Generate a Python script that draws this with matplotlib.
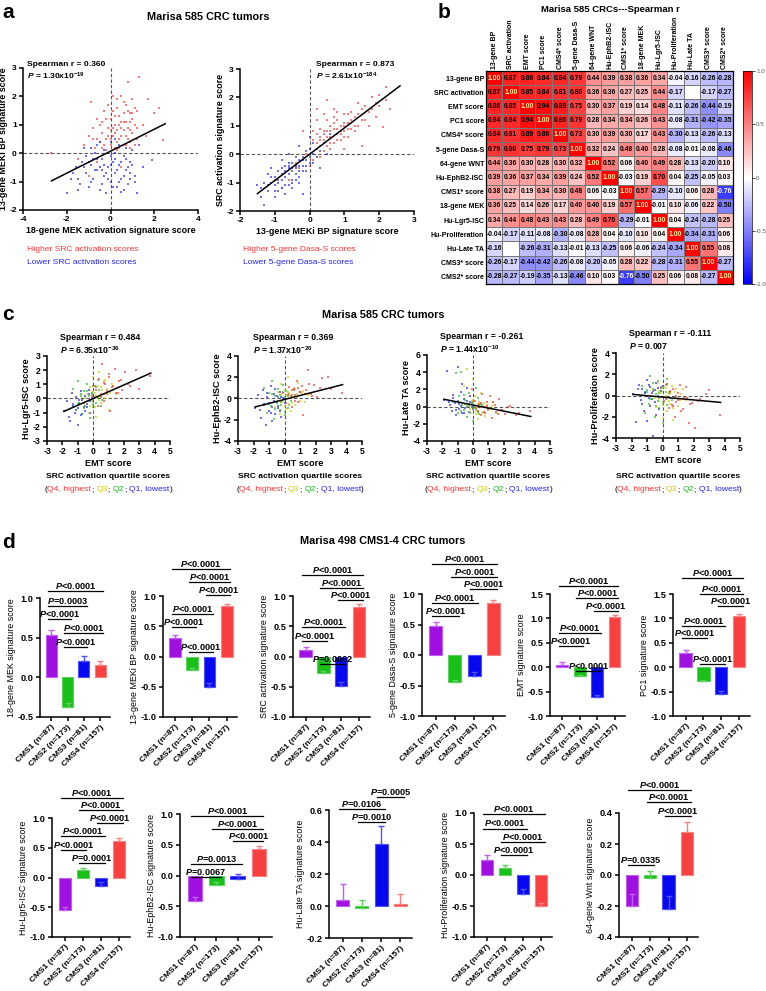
import numpy as np
import matplotlib
matplotlib.use('Agg')
import matplotlib.pyplot as plt
from matplotlib.offsetbox import TextArea, HPacker, AnnotationBbox, DrawingArea

plt.rcParams['font.family'] = ['Liberation Sans', 'DejaVu Sans']
plt.rcParams['font.weight'] = 'bold'
plt.rcParams['axes.labelweight'] = 'bold'
plt.rcParams['mathtext.fontset'] = 'custom'
plt.rcParams['mathtext.rm'] = 'Liberation Sans:bold'
plt.rcParams['mathtext.it'] = 'Liberation Sans:italic:bold'
plt.rcParams['mathtext.bf'] = 'Liberation Sans:bold'
plt.rcParams['axes.unicode_minus'] = False

# ---------------- data ----------------
# panel a, left: 18-gene MEK (x) vs 13-gene MEKi BP (y)
a1_hi_x = [-1.0, -0.8, -0.6, -0.5, -0.4, -0.3, -0.2, -0.1, 0.0, 0.0, 0.1, 0.1, 0.2, 0.2, 0.3, 0.3, 0.4, 0.4,
           0.5, 0.5, 0.6, 0.6, 0.7, 0.7, 0.8, 0.8, 0.9, 0.9, 1.0, 1.0, 1.1, 1.2, 1.2, 1.3, 1.5, 1.7, 2.0, 2.4,
           -0.7, -0.9, -1.2, -0.5, 0.3, -0.2, 1.6, -1.5, -0.6, 0.5, -1.0, 2.2, -2.7,
           -0.3, -0.1, 0.0, 0.2, 0.4, 0.5, 0.6, 0.7, 0.8, 0.9, 1.0, 1.1, 0.3, 0.1, -0.4, -0.6, 0.6, 0.8,
           1.2, 0.9, 0.4, 0.2, -0.2, 0.0, 0.5, 0.7, 1.0, -0.8, -0.4, 0.3, 0.6, 1.1, 0.9, 0.1, -0.1]
a1_hi_y = [0.6, 0.9, 1.2, 0.4, 0.7, 1.5, 0.5, 0.9, 1.2, 0.3, 0.6, 2.0, 1.0, 0.2, 0.8, 1.6, 0.5, 1.3,
           0.9, 2.0, 0.3, 1.1, 0.6, 1.7, 2.5, 0.9, 0.4, 1.4, 0.7, 1.9, 1.0, 0.5, 1.5, 2.7, 1.0, 1.9, 1.4, 0.45,
           0.2, 1.8, 0.3, 1.0, 0.1, 0.1, 0.6, -0.2, -0.3, -0.5, -0.8, 1.6, 0.0,
           0.3, 0.6, 0.8, 1.3, 1.0, 0.6, 1.4, 1.1, 0.5, 0.8, 1.2, 0.3, 0.4, 1.5, 1.1, 0.5, 0.8, 1.5,
           0.9, 1.1, 0.2, 0.7, 1.2, 0.5, 1.1, 0.3, 1.4, 0.5, 0.2, 1.9, 1.8, 1.6, 0.2, 0.9, 1.7]
a1_lo_x = [-2.0, -1.8, -1.6, -1.4, -1.3, -1.1, -1.0, -0.9, -0.8, -0.7, -0.6, -0.5, -0.4, -0.3, -0.2, -0.1,
           0.0, 0.0, 0.1, 0.2, 0.3, 0.3, 0.4, 0.5, 0.6, 0.7, 0.8, 0.9, 1.0, 1.1, 1.2, 1.3, 1.9, -1.2, -0.5,
           0.2, -0.8, 0.6, -1.5, 1.5,
           -1.7, -1.5, -1.2, -1.0, -0.9, -0.7, -0.6, -0.5, -0.4, -0.3, -0.2, -0.1, 0.0, 0.1, 0.2, 0.3, 0.4,
           0.5, 0.6, 0.7, 0.8, 0.9, 1.0, 1.1, -0.9, -0.6, -0.3, 0.0, 0.2, 0.4, 0.7, -1.1, -0.4, 0.5, 0.9]
a1_lo_y = [-1.4, -0.9, -0.5, -1.1, -0.3, -0.7, -1.2, -0.4, -0.9, 0.0, -0.6, -1.3, -0.2, -0.8, -1.4, -0.5,
           -0.1, -1.0, -0.3, -0.7, -1.2, 0.2, -0.4, -0.9, -0.1, -0.6, -1.1, -0.3, 0.1, -0.8, -1.4, 0.3, -0.25,
           0.2, 0.4, 0.5, -0.2, -1.3, -1.3, -0.5,
           -0.7, -0.9, -0.5, -0.3, -1.0, -0.6, -0.2, -0.5, -1.1, -0.4, -0.7, -0.9, -0.4, -1.2, -0.2, -0.6, -1.0,
           -0.3, -0.8, -0.2, -0.5, -0.9, -0.4, -1.0, 0.2, 0.3, 0.1, 0.4, 0.0, 0.3, 0.2, -0.1, -0.6, -1.35, -0.7]
a1_fit = (0.387, 0.07, -2.7, 2.5)  # slope, intercept, x from, x to

# panel a, right: 13-gene MEKi BP (x) vs SRC activation (y)
a2_hi_x = [0.0, 0.1, 0.1, 0.2, 0.2, 0.3, 0.3, 0.4, 0.4, 0.5, 0.5, 0.6, 0.6, 0.7, 0.7, 0.8, 0.8, 0.9, 0.9,
           1.0, 1.0, 1.1, 1.1, 1.2, 1.2, 1.3, 1.4, 1.4, 1.5, 1.5, 1.6, 1.7, 1.8, 1.9, 2.0, 2.1, 2.2, 2.3,
           0.2, 0.4, -0.2, -0.3, -0.6, -0.8, -0.4, -0.1, 0.0, 0.3, 0.5, 1.0, -1.0, 0.7,
           0.3, 0.5, 0.6, 0.8, 0.9, 1.0, 1.1, 1.2, 1.3, 0.4, 0.6, 0.7, 0.8, 1.0, 1.2, 1.4, 1.6, 1.8,
           2.0, 0.2, 0.5, 0.9, 1.1, 1.3, 1.5, 1.7, 0.1, 0.4, 0.6, 0.8, 1.0, 0.3, 0.7, 1.9, 2.2]
a2_hi_y = [0.2, 0.5, -0.2, 0.7, 1.6, 0.3, 0.9, 0.5, 0.1, 0.8, 0.3, 1.0, 0.6, 0.4, 0.9, 1.2, 0.7, 0.5, 1.0,
           1.4, 0.8, 0.6, 1.1, 1.5, 0.9, 1.3, 1.0, 1.8, 1.2, 0.3, 1.7, 1.5, 2.0, 1.3, 1.7, 0.95, 2.35, 1.6,
           1.2, 1.4, 0.8, -0.5, -0.9, -1.2, -0.3, 0.0, -0.4, -0.1, 1.9, 0.2, -0.9, 1.6,
           0.5, 0.6, 0.8, 0.9, 0.7, 1.0, 0.9, 1.1, 1.0, 0.7, 0.4, 1.1, 0.5, 0.6, 1.2, 1.4, 1.2, 1.6,
           2.1, 0.4, 1.2, 0.8, 1.4, 0.8, 1.6, 1.0, 0.8, 0.8, 0.2, 1.5, 1.1, 0.6, 1.3, 1.8, 1.9]
a2_lo_x = [-1.5, -1.4, -1.3, -1.3, -1.2, -1.1, -1.0, -1.0, -0.9, -0.9, -0.8, -0.7, -0.7, -0.6, -0.6, -0.5,
           -0.5, -0.4, -0.4, -0.3, -0.3, -0.2, -0.2, -0.1, -0.1, 0.0, 0.0, 0.1, 0.2, 0.3, 0.4, 0.5, -0.8,
           -0.6, -0.3, -1.1, 0.1, -0.5, -0.2, 0.6,
           -1.2, -1.1, -1.0, -0.9, -0.8, -0.8, -0.7, -0.6, -0.5, -0.5, -0.4, -0.3, -0.3, -0.2, -0.1, 0.0,
           -0.9, -0.7, -0.6, -0.4, -0.2, 0.1, -1.4, -1.0, -0.8, -0.5, -0.3, 0.0, 0.2, -0.6, -0.4, -0.1,
           -1.2, -0.7, 0.3]
a2_lo_y = [-1.1, -1.5, -1.8, -1.0, -1.3, -0.8, -1.1, -1.5, -0.6, -1.3, -0.9, -0.4, -1.1, -0.7, -0.3, -0.9,
           -0.5, -0.1, -0.7, -0.4, -1.0, -0.2, -0.6, 0.1, -0.4, -0.1, 0.6, -0.3, 0.2, -0.5, 0.4, 0.0, -0.2,
           0.0, 0.3, -0.5, 0.4, -1.2, -1.4, 0.7,
           -1.1, -1.0, -0.8, -1.0, -0.7, -1.2, -0.8, -0.5, -0.6, -1.0, -0.4, -0.6, -0.2, -0.4, -0.2, -0.3,
           -0.9, -0.6, -1.1, -0.5, -0.1, 0.0, -1.2, -1.3, -0.5, -0.3, -0.8, 0.2, -0.1, -0.4, -0.9, -0.6,
           -0.7, -1.4, 0.1]
a2_fit = (0.926, 0.0, -1.5, 2.6)

# panel b: Spearman r matrix
hm_labels = ['13-gene BP', 'SRC activation', 'EMT score', 'PC1 score', 'CMS4* score', '5-gene Dasa-S',
             '64-gene WNT', 'Hu-EphB2-ISC', 'CMS1* score', '18-gene MEK', 'Hu-Lgr5-ISC',
             'Hu-Proliferation', 'Hu-Late TA', 'CMS3* score', 'CMS2* score']
nan = np.nan
hm_r = np.array([
    [1.00, 0.87, 0.86, 0.84, 0.84, 0.79, 0.44, 0.39, 0.38, 0.36, 0.34, -0.04, -0.16, -0.26, -0.28],
    [0.87, 1.00, 0.85, 0.84, 0.81, 0.80, 0.36, 0.36, 0.27, 0.25, 0.44, -0.17, nan, -0.17, -0.27],
    [0.86, 0.85, 1.00, 0.94, 0.89, 0.75, 0.30, 0.37, 0.19, 0.14, 0.48, -0.11, -0.26, -0.44, -0.19],
    [0.84, 0.84, 0.94, 1.00, 0.86, 0.79, 0.28, 0.34, 0.34, 0.26, 0.43, -0.08, -0.31, -0.42, -0.35],
    [0.84, 0.81, 0.89, 0.86, 1.00, 0.73, 0.30, 0.39, 0.30, 0.17, 0.43, -0.30, -0.13, -0.26, -0.13],
    [0.79, 0.80, 0.75, 0.79, 0.73, 1.00, 0.32, 0.24, 0.48, 0.40, 0.28, -0.08, -0.01, -0.08, -0.46],
    [0.44, 0.36, 0.30, 0.28, 0.30, 0.32, 1.00, 0.52, 0.06, 0.40, 0.49, 0.28, -0.13, -0.20, 0.10],
    [0.39, 0.36, 0.37, 0.34, 0.39, 0.24, 0.52, 1.00, -0.03, 0.19, 0.70, 0.04, -0.25, -0.05, 0.03],
    [0.38, 0.27, 0.19, 0.34, 0.30, 0.48, 0.06, -0.03, 1.00, 0.57, -0.29, -0.10, 0.06, 0.28, -0.76],
    [0.36, 0.25, 0.14, 0.26, 0.17, 0.40, 0.40, 0.19, 0.57, 1.00, -0.01, 0.10, -0.06, 0.22, -0.50],
    [0.34, 0.44, 0.48, 0.43, 0.43, 0.28, 0.49, 0.70, -0.29, -0.01, 1.00, 0.04, -0.24, -0.28, 0.25],
    [-0.04, -0.17, -0.11, -0.08, -0.30, -0.08, 0.28, 0.04, -0.10, 0.10, 0.04, 1.00, -0.34, -0.31, 0.06],
    [-0.16, nan, -0.26, -0.31, -0.13, -0.01, -0.13, -0.25, 0.06, -0.06, -0.24, -0.34, 1.00, 0.55, 0.08],
    [-0.26, -0.17, -0.44, -0.42, -0.26, -0.08, -0.20, -0.05, 0.28, 0.22, -0.28, -0.31, 0.55, 1.00, -0.27],
    [-0.28, -0.27, -0.19, -0.35, -0.13, -0.46, 0.10, 0.03, -0.76, -0.50, 0.25, 0.06, 0.08, -0.27, 1.00],
])

# panel c: EMT score per SRC activation quartile (same samples in all 4 plots)
emt_q4 = [-0.1, 0.1, 0.3, 0.4, 0.5, 0.6, 0.7, 0.8, 0.9, 1.0, 1.1, 1.2, 1.4, 1.5, 1.7, 1.9, 2.1, 2.4, 3.0, 3.7,
          0.2, 0.5, 0.7, 0.9, 1.0, 1.3, 1.6, 1.8, 2.3, 2.8]
emt_q3 = [-0.6, -0.4, -0.3, -0.2, -0.1, 0.0, 0.1, 0.1, 0.2, 0.3, 0.3, 0.4, 0.5, 0.6, 0.7, 0.8, 0.9, 1.0, 1.2, 1.5,
          -0.5, -0.2, 0.0, 0.2, 0.4, 0.5, 0.7, 0.8, 1.1, 1.3]
emt_q2 = [-1.3, -1.1, -1.0, -0.9, -0.8, -0.7, -0.6, -0.5, -0.4, -0.3, -0.3, -0.2, -0.1, 0.0, 0.0, 0.1, 0.2, 0.3, 0.4, 0.6,
          -1.0, -0.8, -0.6, -0.4, -0.2, -0.1, 0.0, 0.2, 0.3, 0.5]
emt_q1 = [-1.9, -1.7, -1.5, -1.4, -1.3, -1.2, -1.1, -1.0, -1.0, -0.9, -0.8, -0.8, -0.7, -0.6, -0.5, -0.5, -0.4, -0.3, -0.2, -0.1,
          -1.6, -1.3, -1.1, -0.9, -0.7, -0.6, -0.4, -0.3, -0.2, 0.0]

lgr5_q4 = [0.2, 0.9, -0.5, 1.4, 0.3, 2.4, -0.2, 1.0, 0.5, 1.7, -0.9, 0.8, 2.1, 0.4, 1.2, 0.6, 1.9, 0.9, 0.7, 1.6,
           0.6, 0.1, 1.1, 0.3, 1.5, 0.9, 0.4, 1.3, 1.0, 2.0]
lgr5_q3 = [-0.4, 0.3, -1.0, 0.8, -0.2, 1.5, -0.6, 0.4, -1.3, 0.9, 0.1, 1.9, -0.3, 0.6, 1.2, 0.0, 0.7, -0.8, 1.0, 0.3,
           0.0, -0.5, 0.5, 0.2, -0.1, 0.8, 0.3, 1.3, 0.4, 0.6]
lgr5_q2 = [0.7, -0.8, 1.2, -0.3, 0.3, -1.1, 0.5, -0.5, 1.0, -0.2, 0.2, -1.4, 0.4, -0.6, 0.9, 0.1, -0.3, 1.3, 0.6, -0.1,
           -0.4, 0.2, -0.7, 0.5, -0.1, 0.3, -0.4, 0.8, 0.0, -0.5]
lgr5_q1 = [-0.9, -0.2, -1.6, 0.4, -0.5, -1.0, 0.1, -0.7, -1.9, -0.3, 0.5, -1.2, -0.1, -0.6, 0.2, -0.9, -0.4, 0.6, -0.2, 0.0,
           -1.3, -0.4, -0.8, -0.1, -1.1, -0.3, -0.6, 0.3, -1.0, -0.2]

ephb2_q4 = [0.5, -0.4, 1.1, 0.2, -0.8, 0.9, 0.3, 1.6, -0.3, 0.6, 1.2, -1.6, 0.8, 2.7, 0.4, 1.3, 0.1, 1.9, 0.9, 0.5,
            0.3, 0.8, -0.2, 1.0, 0.6, 0.4, 1.4, 0.2, 1.0, 2.0]
ephb2_q3 = [-0.8, 0.6, -1.5, 1.4, -0.3, 0.8, -1.0, 0.3, 2.0, -0.5, 0.5, -1.2, 0.2, 1.0, -0.6, 0.4, 1.5, -0.2, 0.7, 0.3,
            -0.2, 0.3, -0.7, 0.6, 0.0, -0.4, 0.9, 0.1, 0.5, -0.3]
ephb2_q2 = [1.0, -1.4, 0.5, -0.7, 1.6, -1.9, 0.2, -0.4, 0.9, -1.1, 0.3, -0.6, 1.3, -1.6, 0.1, 0.7, -0.9, 0.4, -0.2, 0.8,
            -0.5, 0.4, -1.0, 0.1, -0.3, 0.6, -1.3, 0.2, -0.6, 0.3]
ephb2_q1 = [-0.9, 0.3, -1.8, 0.8, -0.6, -2.5, 0.1, -1.2, -0.4, 1.2, -0.8, -2.1, 0.4, -1.5, 0.2, -0.3, -0.9, 0.6, -1.7, 0.0,
            -1.1, -0.5, 0.5, -1.4, -0.2, 0.9, -0.7, -1.2, 0.1, -0.4]

lateta_q4 = [2.0, 0.6, -0.5, 0.3, -1.0, 1.5, 0.0, -0.8, 0.5, -0.3, 1.2, -1.3, 0.2, -0.6, 0.9, -0.4, -0.9, 0.1, -0.7, -0.5,
             -0.2, 0.4, -0.6, 0.1, -0.3, 0.5, -0.9, -0.4, -0.1, -1.0]
lateta_q3 = [2.4, 4.4, 0.1, -0.6, 0.6, 3.2, -0.2, 1.2, -0.9, 0.3, -1.4, 0.5, 0.0, -0.7, 0.4, -1.1, 0.2, -0.4, 0.1, -0.8,
             0.3, -0.3, 0.8, -0.5, 0.2, 1.6, -0.6, 0.0, -0.2, 0.5]
lateta_q2 = [0.5, 3.9, -0.8, 1.2, 4.0, 0.2, -0.4, 0.8, -1.2, 0.3, 1.6, -0.6, 0.4, -1.7, 0.7, 0.0, -0.3, 1.0, -0.9, 0.2,
             0.6, -0.5, 1.4, 0.1, -0.8, 0.4, -0.2, 2.2, -0.6, 0.3]
lateta_q1 = [0.8, 4.1, 0.2, -0.5, 1.3, 0.4, -1.0, 4.6, 0.6, -0.3, 1.7, 0.1, -0.7, 0.9, -0.2, 0.3, 2.2, -0.6, 0.5, 0.0,
             0.5, 1.0, -0.4, 0.3, 2.6, -0.8, 0.7, 0.1, 1.2, -0.3]

prolif_q4 = [0.7, -0.5, 1.1, -1.2, 0.3, -0.9, 0.6, -2.0, 0.0, -0.4, 1.0, -1.5, -0.2, 0.8, -2.6, -0.7, -3.1, -0.3, 0.5, -1.8,
             -0.3, 0.4, -1.0, -0.6, 0.2, -1.3, -0.2, -0.8, -0.5, 0.1]
prolif_q3 = [0.5, -1.1, 1.2, -0.3, 0.2, -2.1, 0.8, -0.6, 0.0, 1.1, -1.5, 0.3, -0.8, 0.9, -2.3, -0.2, 0.6, -1.0, 0.1, -0.4,
             -0.2, 0.4, -0.9, 0.7, -0.5, 0.1, -1.2, 0.3, -0.4, 0.6]
prolif_q2 = [0.9, -1.6, 0.3, -0.8, 1.8, -0.3, 0.6, -2.0, 0.1, -0.5, 1.4, -1.2, 0.4, -2.6, 0.7, -0.1, 1.0, -0.9, 0.2, -0.4,
             0.5, -0.3, 1.2, -1.0, 0.2, 0.8, -0.6, 0.3, 1.6, -0.2]
prolif_q1 = [0.1, -2.5, 1.0, -0.4, 0.6, -1.5, 0.3, -2.4, 1.5, -0.2, 0.8, -1.0, 0.2, -3.8, 0.5, -0.6, 1.2, 0.0, -1.3, 0.4,
             0.6, -0.8, 0.2, 1.0, -0.3, 0.4, -1.8, 0.7, -0.1, 0.9]

c_fits = [(0.478, 0.0), (0.372, -0.09), (-0.354, 0.18), (-0.133, -0.15)]
c_fit_range = (-1.9, 3.75)

# panel d: CMS group means / SEM
cms_labels = ['CMS1 (n=87)', 'CMS2 (n=173)', 'CMS3 (n=81)', 'CMS4 (n=157)']
mek18_mean = [0.53, -0.37, 0.21, 0.15];   mek18_sem = [0.065, 0.045, 0.06, 0.05]
bp13_mean = [0.30, -0.23, -0.50, 0.83];   bp13_sem = [0.055, 0.035, 0.06, 0.04]
src_mean = [0.10, -0.28, -0.48, 0.82];    src_sem = [0.06, 0.035, 0.065, 0.04]
dasa_mean = [0.47, -0.45, -0.35, 0.85];   dasa_sem = [0.07, 0.04, 0.07, 0.05]
emt_mean = [0.05, -0.18, -0.62, 1.02];    emt_sem = [0.06, 0.03, 0.06, 0.05]
pc1_mean = [0.29, -0.29, -0.55, 1.05];    pc1_sem = [0.06, 0.03, 0.055, 0.05]
lgr5_mean = [-0.55, 0.12, -0.15, 0.61];   lgr5_sem = [0.05, 0.04, 0.07, 0.05]
ephb2_mean = [-0.42, -0.16, -0.06, 0.43]; ephb2_sem = [0.07, 0.05, 0.08, 0.05]
lateta_mean = [0.04, -0.01, 0.39, 0.01];  lateta_sem = [0.095, 0.05, 0.11, 0.065]
prolif_mean = [0.25, 0.12, -0.31, -0.50]; prolif_sem = [0.07, 0.045, 0.09, 0.055]
wnt_mean = [-0.20, -0.02, -0.22, 0.28];   wnt_sem = [0.08, 0.045, 0.085, 0.06]

# comparisons: (group i, group j, bracket height, p text)
mek18_p = [(0, 3, 1.09, '<0.0001'), (0, 2, 0.90, '=0.0003'), (0, 1, 0.74, '<0.0001'),
           (1, 3, 0.555, '<0.0001'), (1, 2, 0.386, '<0.0001')]
bp13_p = [(0, 3, 1.45, '<0.0001'), (1, 3, 1.23, '<0.0001'), (2, 3, 1.02, '<0.0001'),
          (0, 2, 0.70, '<0.0001'), (0, 1, 0.49, '<0.0001'), (1, 2, 0.08, '<0.0001')]
src_p = [(0, 3, 1.35, '<0.0001'), (1, 3, 1.14, '<0.0001'), (2, 3, 0.93, '<0.0001'),
         (0, 2, 0.49, '<0.0001'), (0, 1, 0.26, '<0.0001'), (1, 2, -0.13, '=0.0062')]
dasa_p = [(0, 3, 1.49, '<0.0001'), (1, 3, 1.28, '<0.0001'), (2, 3, 1.09, '<0.0001'),
          (0, 2, 0.85, '<0.0001'), (0, 1, 0.64, '<0.0001')]
emt_p = [(0, 3, 1.67, '<0.0001'), (1, 3, 1.41, '<0.0001'), (2, 3, 1.16, '<0.0001'),
         (0, 2, 0.71, '<0.0001'), (0, 1, 0.43, '<0.0001'), (1, 2, -0.08, '<0.0001')]
pc1_p = [(0, 3, 1.82, '<0.0001'), (1, 3, 1.51, '<0.0001'), (2, 3, 1.25, '<0.0001'),
         (0, 2, 0.85, '<0.0001'), (0, 1, 0.59, '<0.0001'), (1, 2, 0.06, '<0.0001')]
lgr5_p = [(0, 3, 1.34, '<0.0001'), (1, 3, 1.13, '<0.0001'), (2, 3, 0.92, '<0.0001'),
          (0, 2, 0.69, '<0.0001'), (0, 1, 0.46, '<0.0001'), (1, 2, 0.24, '=0.0001')]
ephb2_p = [(0, 3, 0.97, '<0.0001'), (1, 3, 0.76, '<0.0001'), (2, 3, 0.56, '<0.0001'),
           (0, 2, 0.19, '=0.0013'), (0, 1, -0.02, '=0.0067')]
lateta_p = [(2, 3, 0.68, '=0.0005'), (0, 2, 0.606, '=0.0106'), (1, 2, 0.523, '=0.0010')]
prolif_p = [(0, 3, 0.98, '<0.0001'), (0, 2, 0.75, '<0.0001'), (1, 3, 0.53, '<0.0001'), (1, 2, 0.32, '<0.0001')]
wnt_p = [(0, 3, 0.55, '<0.0001'), (1, 3, 0.47, '<0.0001'), (2, 3, 0.38, '<0.0001'), (0, 1, 0.064, '=0.0335')]

# ---------------- figure helpers ----------------
W, H = 766, 991
fig = plt.figure(figsize=(W / 100, H / 100), dpi=100)

RED, YEL, GRN, BLU = '#ff3333', '#cccc00', '#22bb22', '#2222ff'
bar_face = ['#a010e0', '#18c018', '#0808f0', '#f84040']
bar_edge = ['#c060f0', '#60d060', '#5050f8', '#f88080']


def px_ax(l, t, r, b):
    return fig.add_axes([l / W, 1 - b / H, (r - l) / W, (b - t) / H])


def ftext(x, y, s, **kw):
    return fig.text(x / W, 1 - y / H, s, **kw)


def prism(ax, fs):
    ax.spines['top'].set_visible(False)
    ax.spines['right'].set_visible(False)
    ax.spines['left'].set_linewidth(1.1)
    ax.spines['bottom'].set_linewidth(1.1)
    ax.tick_params(width=1.1, length=3, labelsize=fs, pad=1.5)


def color_line(xc, y, parts, size):
    kids = []
    for txt, col in parts:
        if txt == ' ':
            kids.append(DrawingArea(2.0, 1))
        else:
            kids.append(TextArea(txt, textprops=dict(color=col, fontsize=size, fontweight='normal')))
    pack = HPacker(children=kids, align='baseline', pad=0, sep=0)
    ab = AnnotationBbox(pack, (xc / W, 1 - y / H), xycoords='figure fraction', frameon=False,
                        box_alignment=(0.5, 0.5), pad=0)
    fig.add_artist(ab)


def scatter_panel(box, groups, fit, xr, xlim, ylim, xticks, yticks, xlabel, ylabel, fs, ms):
    ax = px_ax(*box)
    for x, y, c in groups:
        ax.scatter(x, y, s=ms, c=c, marker='s', linewidths=0, alpha=0.65, zorder=2)
    xs = np.array(xr)
    ax.plot(xs, fit[0] * xs + fit[1], color='k', lw=1.1, zorder=3)
    ax.axhline(0, color='#555555', ls=(0, (3, 2)), lw=0.8, zorder=1)
    ax.axvline(0, color='#555555', ls=(0, (3, 2)), lw=0.8, zorder=1)
    ax.set_xlim(xlim)
    ax.set_ylim(ylim)
    ax.set_xticks(xticks)
    ax.set_yticks(yticks)
    prism(ax, fs)
    ax.set_xlabel(xlabel, fontsize=fs + 0.4, labelpad=2)
    ax.set_ylabel(ylabel, fontsize=fs + 0.4, labelpad=1)
    return ax


def bar_panel(box, means, sems, ylim, ystep, ylabel, brackets):
    ax = px_ax(*box)
    x = np.arange(4)
    ax.bar(x, means, width=0.68, color=bar_face, edgecolor=bar_edge, linewidth=0.8, zorder=2)
    for i in range(4):
        ax.errorbar(x[i], means[i], yerr=[[0], [sems[i]]], color=bar_edge[i], capsize=2.3,
                    lw=1.0, capthick=1.0, zorder=3)
    ax.set_xlim(-0.7, 3.6)
    ax.set_ylim(ylim)
    ax.set_yticks(np.arange(ylim[0], ylim[1] + 1e-9, ystep))
    ax.yaxis.set_major_formatter('{x:.1f}')
    ax.set_xticks(x)
    ax.set_xticklabels(cms_labels, rotation=45, ha='right', rotation_mode='anchor')
    prism(ax, 6.6)
    ax.tick_params(axis='x', labelsize=6.0)
    ax.set_ylabel(ylabel, fontsize=6.4, fontweight='normal', labelpad=1.5)
    for i, j, h, s in brackets:
        ax.plot([i - 0.2, j + 0.2], [h, h], color='k', lw=0.9, clip_on=False)
        ax.text((i + j) / 2, h, '$P$' + s, ha='center', va='bottom', fontsize=6.6, clip_on=False)
    return ax


# ---------------- panel a ----------------
ftext(2, 13, 'a', fontsize=15, va='center')
ftext(208, 17, 'Marisa 585 CRC tumors', fontsize=7.8, ha='center', va='center')

scatter_panel((23, 68, 198, 210), [(a1_hi_x, a1_hi_y, RED), (a1_lo_x, a1_lo_y, BLU)], a1_fit, a1_fit[2:],
              (-4, 4), (-2, 3), [-4, -2, 0, 2, 4], [-2, -1, 0, 1, 2, 3],
              '18-gene MEK activation signature score', '13-gene MEKi BP signature score', 6.0, 4)
ftext(27, 64, 'Spearman r = 0.360', fontsize=6.1, va='center')
ftext(27, 76, '$P$ = 1.30x10$^{-19}$', fontsize=6.1, va='center')
ftext(27, 250, 'Higher SRC activation scores', fontsize=6.1, color=RED, fontweight='normal', va='center')
ftext(27, 262, 'Lower SRC activation scores', fontsize=6.1, color=BLU, fontweight='normal', va='center')

scatter_panel((240, 69, 414, 211), [(a2_hi_x, a2_hi_y, RED), (a2_lo_x, a2_lo_y, BLU)], a2_fit, a2_fit[2:],
              (-2, 3), (-2, 3), [-2, -1, 0, 1, 2, 3], [-2, -1, 0, 1, 2, 3],
              '13-gene MEKi BP signature score', 'SRC activation signature score', 6.0, 4)
ftext(316, 64, 'Spearman r = 0.873', fontsize=6.1, va='center')
ftext(316, 76, '$P$ = 2.61x10$^{-184}$', fontsize=6.1, va='center')
ftext(243, 250, 'Higher 5-gene Dasa-S scores', fontsize=6.1, color=RED, fontweight='normal', va='center')
ftext(243, 262, 'Lower 5-gene Dasa-S scores', fontsize=6.1, color=BLU, fontweight='normal', va='center')

# ---------------- panel b ----------------
ftext(438, 13, 'b', fontsize=15, va='center')
ftext(610, 10, 'Marisa 585 CRCs---Spearman r', fontsize=6.8, ha='center', va='center')
axh = px_ax(486, 71, 733, 284)
mesh = axh.pcolormesh(np.ma.masked_invalid(hm_r), cmap='bwr', vmin=-1, vmax=1,
                      edgecolors='#777777', linewidth=0.4)
axh.set_xlim(0, 15)
axh.set_ylim(15, 0)
axh.set_xticks(np.arange(15) + 0.5)
axh.set_xticklabels(hm_labels, rotation=90, fontsize=5.0)
axh.xaxis.tick_top()
axh.set_yticks(np.arange(15) + 0.5)
axh.set_yticklabels(hm_labels, fontsize=5.0)
axh.tick_params(length=0, pad=1.5)
for s in axh.spines.values():
    s.set_linewidth(0.9)
for i in range(15):
    for j in range(15):
        v = hm_r[i, j]
        if np.isnan(v):
            continue
        col = '#fff2a0' if v > 0.95 else ('white' if v < -0.7 else 'black')
        axh.text(j + 0.5, i + 0.5, f'{v:.2f}', ha='center', va='center', fontsize=4.9, color=col)
cax = px_ax(743, 71, 752, 284)
cb = fig.colorbar(mesh, cax=cax, ticks=[-1, -0.5, 0, 0.5, 1])
cb.ax.set_yticklabels(['-1.0', '-0.5', '0', '0.5', '1.0'], fontsize=4.5, fontweight='normal', color='#555555')
cb.ax.tick_params(length=2, width=0.5, pad=1)
cb.outline.set_linewidth(0.5)

# ---------------- panel c ----------------
ftext(2, 315, 'c', fontsize=15, va='center')
ftext(383, 315, 'Marisa 585 CRC tumors', fontsize=7.8, ha='center', va='center')

c_boxes = [(47, 356, 170, 441), (238, 356, 362, 441), (427, 355, 550, 441), (616, 353, 740, 438)]
c_ylims = [(-3, 3), (-4, 4), (-4, 6), (-4, 4)]
c_yticks = [np.arange(-3, 4, 1), np.arange(-4, 5, 2), np.arange(-4, 7, 2), np.arange(-4, 5, 2)]
c_ylabels = ['Hu-Lgr5-ISC score', 'Hu-EphB2-ISC score', 'Hu-Late TA score', 'Hu-Proliferation score']
c_y = [(lgr5_q4, lgr5_q3, lgr5_q2, lgr5_q1), (ephb2_q4, ephb2_q3, ephb2_q2, ephb2_q1),
       (lateta_q4, lateta_q3, lateta_q2, lateta_q1), (prolif_q4, prolif_q3, prolif_q2, prolif_q1)]
c_r = ['Spearman r = 0.484', 'Spearman r = 0.369', 'Spearman r = -0.261', 'Spearman r = -0.111']
c_pv = ['$P$ = 6.35x10$^{-36}$', '$P$ = 1.37x10$^{-20}$', '$P$ = 1.44x10$^{-10}$', '$P$ = 0.007']
c_txt_x = [60, 253, 440, 629]
c_txt_y = [338, 338, 337, 334]
quart_parts = [('(', 'black'), ('Q4, highest', RED), (';', 'black'), (' ', None), ('Q3', YEL), (';', 'black'),
               (' ', None), ('Q2', GRN), (';', 'black'), (' ', None), ('Q1, lowest', BLU), (')', 'black')]
for k in range(4):
    q4, q3, q2, q1 = c_y[k]
    groups = [(emt_q1, q1, BLU), (emt_q2, q2, GRN), (emt_q3, q3, YEL), (emt_q4, q4, RED)]
    ax = scatter_panel(c_boxes[k], groups, c_fits[k], c_fit_range, (-3, 5), c_ylims[k],
                       np.arange(-3, 6, 1), c_yticks[k], 'EMT score', c_ylabels[k], 6.2, 3)
    ftext(c_txt_x[k], c_txt_y[k], c_r[k], fontsize=6.3, va='center')
    ftext(c_txt_x[k], c_txt_y[k] + 12, c_pv[k], fontsize=6.3, va='center')
    xc = (c_boxes[k][0] + c_boxes[k][2]) / 2
    ftext(xc, 476, 'SRC activation quartile scores', fontsize=6.1, ha='center', va='center')
    color_line(xc, 490, quart_parts, 6.1)

# ---------------- panel d ----------------
ftext(2, 542, 'd', fontsize=15, va='center')
ftext(383, 541, 'Marisa 498 CMS1-4 CRC tumors', fontsize=7.8, ha='center', va='center')

bar_panel((40, 598, 110, 717), mek18_mean, mek18_sem, (-0.5, 1.0), 0.5, '18-gene MEK signature score', mek18_p)
bar_panel((163, 596, 237, 717), bp13_mean, bp13_sem, (-1.0, 1.0), 0.5, '13-gene MEKi BP signature score', bp13_p)
bar_panel((293, 596, 370, 717), src_mean, src_sem, (-1.0, 1.0), 0.5, 'SRC activation signature score', src_p)
bar_panel((422, 594, 505, 716), dasa_mean, dasa_sem, (-1.0, 1.0), 0.5, '5-gene Dasa-S signature score', dasa_p)
bar_panel((550, 594, 625, 716), emt_mean, emt_sem, (-1.0, 1.5), 0.5, 'EMT signature score', emt_p)
bar_panel((673, 594, 750, 716), pc1_mean, pc1_sem, (-1.0, 1.5), 0.5, 'PC1 signature score', pc1_p)

bar_panel((52, 818, 130, 937), lgr5_mean, lgr5_sem, (-1.0, 1.0), 0.5, 'Hu-Lgr5-ISC signature score', lgr5_p)
bar_panel((180, 814, 272, 937), ephb2_mean, ephb2_sem, (-1.0, 1.0), 0.5, 'Hu-EphB2-ISC signature score', ephb2_p)
bar_panel((329, 810, 412, 938), lateta_mean, lateta_sem, (-0.2, 0.6), 0.2, 'Hu-Late TA signature score', lateta_p)
bar_panel((474, 813, 552, 937), prolif_mean, prolif_sem, (-1.0, 1.0), 0.5, 'Hu-Proliferation signature score', prolif_p)
bar_panel((619, 813, 698, 937), wnt_mean, wnt_sem, (-0.4, 0.4), 0.2, '64-gene Wnt signature score', wnt_p)

fig.savefig('out.png', dpi=100)
